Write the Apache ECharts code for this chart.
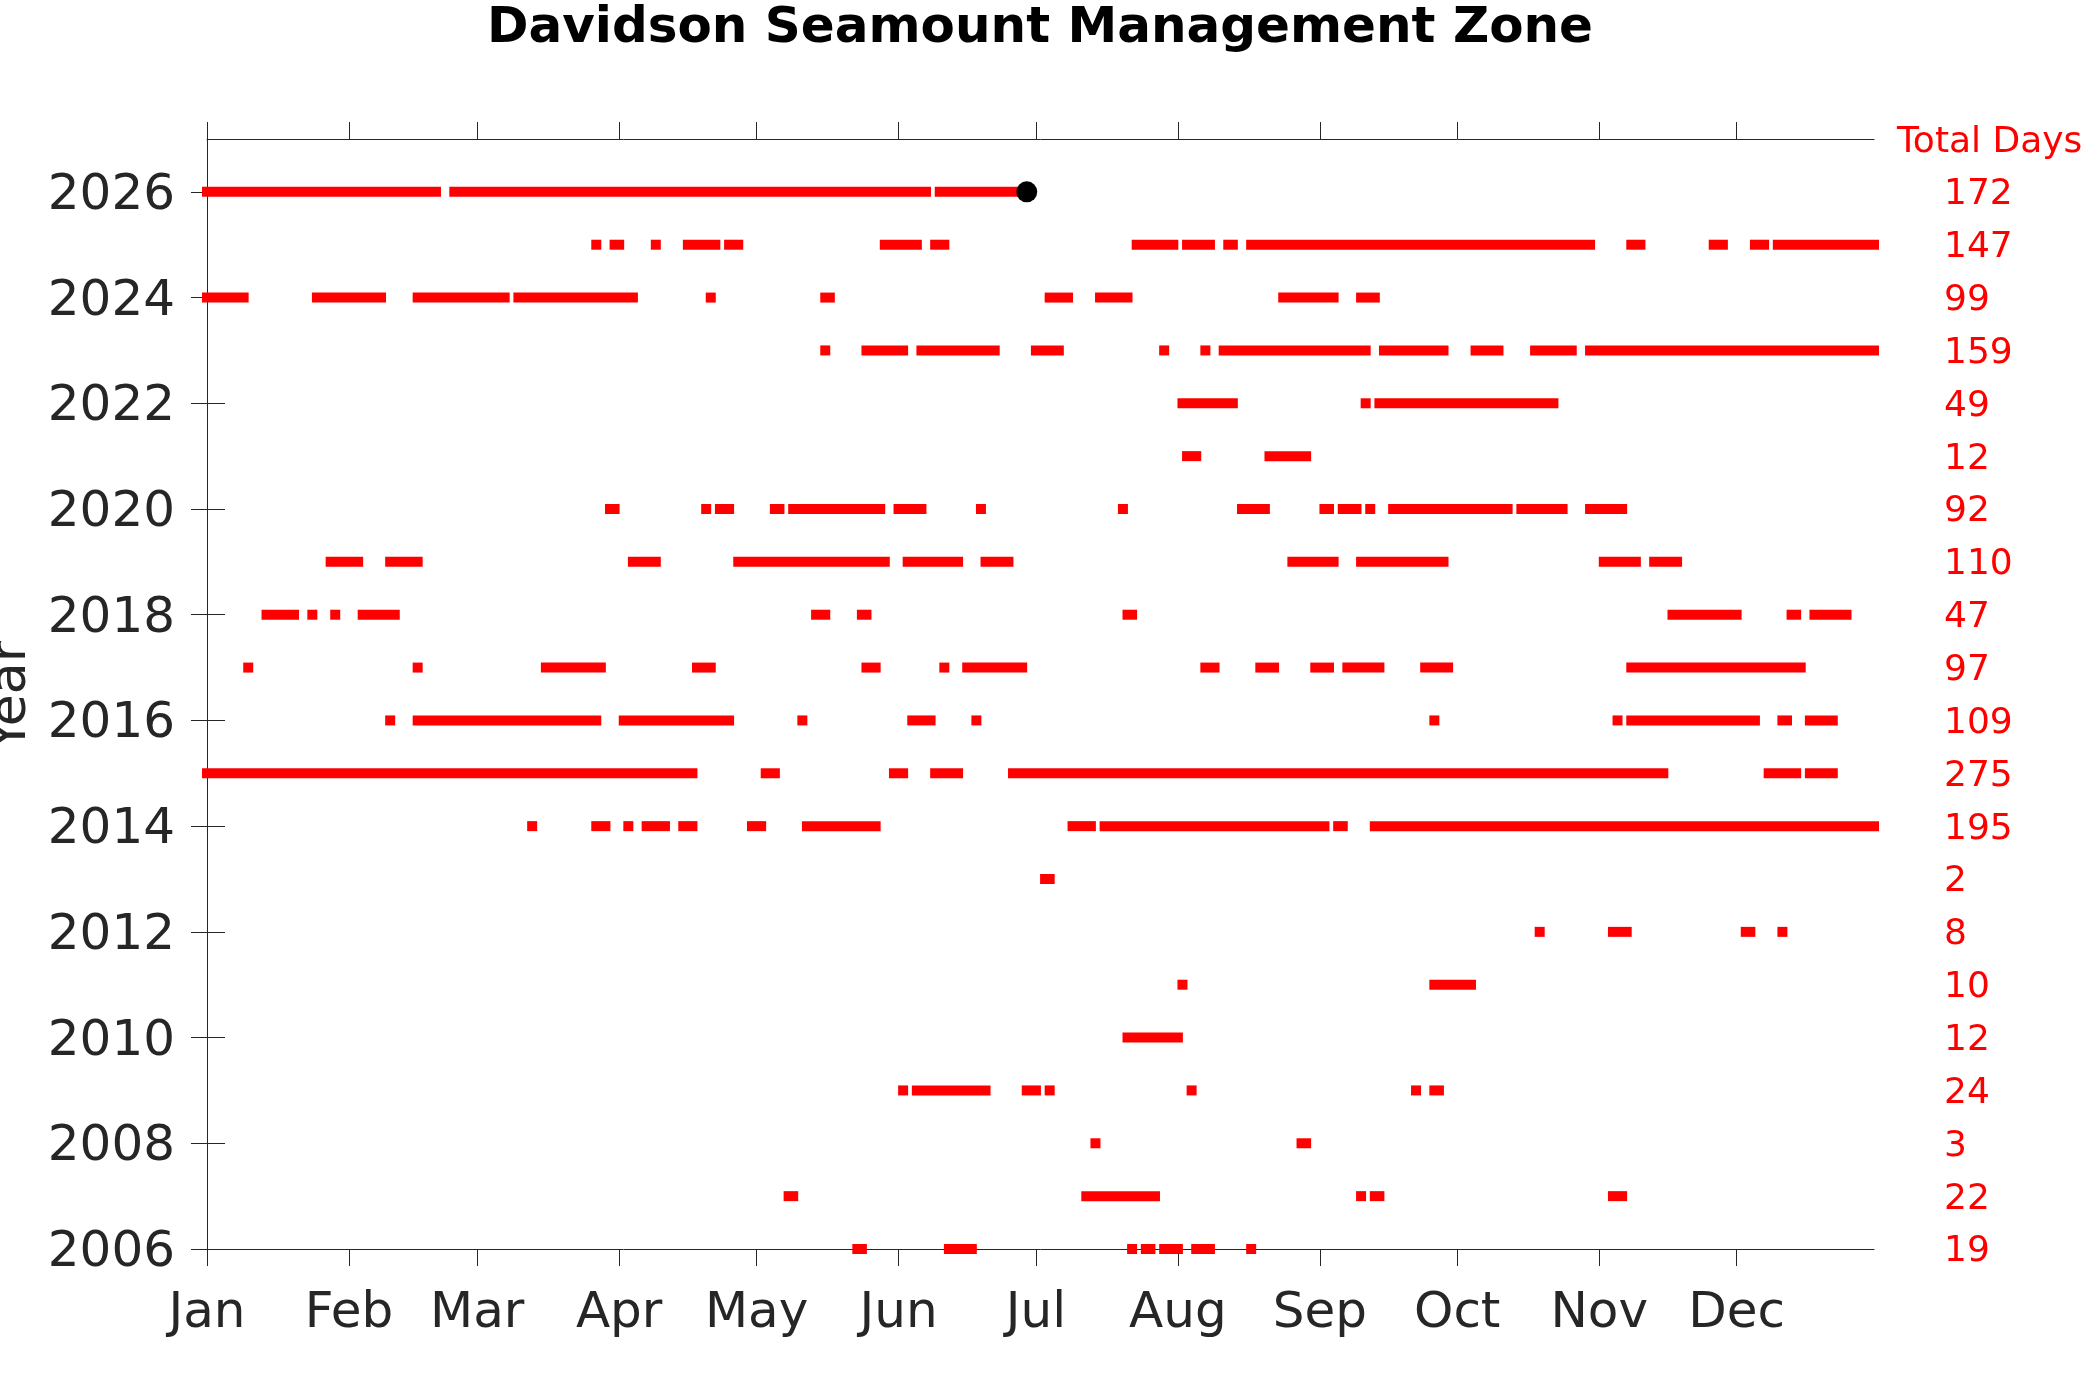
<!DOCTYPE html>
<html>
<head>
<meta charset="utf-8">
<title>Davidson Seamount Management Zone</title>
<script src="https://cdn.jsdelivr.net/npm/echarts@6/dist/echarts.min.js"></script>
<style>
html, body { margin: 0; padding: 0; background: #fff; }
#chart { width: 2083px; height: 1389px; }
</style>
</head>
<body>
<div id="chart"></div>
<script>
// month ticks, as day-of-year offsets (axis runs Jan 1 .. Dec 31)
var monthNames = ['Jan', 'Feb', 'Mar', 'Apr', 'May', 'Jun', 'Jul', 'Aug', 'Sep', 'Oct', 'Nov', 'Dec'];
var monthStarts = [0, 31, 59, 90, 120, 151, 181, 212, 243, 273, 304, 334];

var years = [2006, 2007, 2008, 2009, 2010, 2011, 2012, 2013, 2014, 2015, 2016,
	2017, 2018, 2019, 2020, 2021, 2022, 2023, 2024, 2025, 2026];
var evenYears = [2006, 2008, 2010, 2012, 2014, 2016, 2018, 2020, 2022, 2024, 2026];
var totalDays = [19, 22, 3, 24, 12, 10, 8, 2, 195, 275, 109, 97, 47, 110, 92, 12, 49, 159, 99, 147, 172];

// [first day, last day] of each presence period, per year
var seg2006 = [[142, 143], [162, 167], [202, 202], [205, 206], [209, 212], [216, 219], [228, 228]];
var seg2007 = [[127, 128], [192, 207], [252, 252], [255, 256], [307, 309]];
var seg2008 = [[194, 194], [239, 240]];
var seg2009 = [[152, 152], [155, 170], [179, 181], [184, 184], [215, 215], [264, 264], [268, 269]];
var seg2010 = [[201, 212]];
var seg2011 = [[213, 213], [268, 276]];
var seg2012 = [[291, 291], [307, 310], [336, 337], [344, 344]];
var seg2013 = [[183, 184]];
var seg2014 = [[71, 71], [85, 87], [92, 92], [96, 100], [104, 106], [119, 121], [131, 146],
	[189, 193], [196, 244], [247, 248], [255, 364]];
var seg2015 = [[0, 106], [122, 124], [150, 152], [159, 164], [176, 318], [341, 347], [350, 355]];
var seg2016 = [[40, 40], [46, 85], [91, 114], [130, 130], [154, 158], [168, 168], [268, 268],
	[308, 308], [311, 338], [344, 345], [350, 355]];
var seg2017 = [[9, 9], [46, 46], [74, 86], [107, 110], [144, 146], [161, 161], [166, 178],
	[218, 220], [230, 233], [242, 245], [249, 256], [266, 271], [311, 348]];
var seg2018 = [[13, 19], [23, 23], [28, 28], [34, 41], [133, 135], [143, 144], [201, 202],
	[320, 334], [346, 347], [351, 358]];
var seg2019 = [[27, 33], [40, 46], [93, 98], [116, 148], [153, 164], [170, 175], [237, 246],
	[252, 270], [305, 312], [316, 321]];
var seg2020 = [[88, 89], [109, 109], [112, 114], [124, 125], [128, 147], [151, 156], [169, 169],
	[200, 200], [226, 231], [244, 245], [248, 251], [254, 254], [259, 284], [287, 296], [302, 309]];
var seg2021 = [[214, 216], [232, 240]];
var seg2022 = [[213, 224], [253, 253], [256, 294]];
var seg2023 = [[135, 135], [144, 152], [156, 172], [181, 186], [209, 209], [218, 218], [222, 253],
	[257, 270], [277, 282], [290, 298], [302, 364]];
var seg2024 = [[0, 8], [24, 38], [46, 65], [68, 93], [110, 110], [135, 136], [184, 188],
	[195, 201], [235, 246], [252, 255]];
var seg2025 = [[85, 85], [89, 90], [98, 98], [105, 111], [114, 116], [148, 155], [159, 161],
	[203, 211], [214, 219], [223, 224], [228, 302], [311, 313], [329, 331], [338, 340], [343, 364]];
var seg2026 = [[0, 50], [54, 157], [160, 176]];

var yearSegments = [seg2006, seg2007, seg2008, seg2009, seg2010, seg2011, seg2012, seg2013,
	seg2014, seg2015, seg2016, seg2017, seg2018, seg2019, seg2020, seg2021, seg2022, seg2023,
	seg2024, seg2025, seg2026];

// latest position
var lastFix = [179, 2026];

var axisColor = '#262626';
var barHeight = 10;

var segData = [];
yearSegments.forEach(function(list, i) {
	list.forEach(function(s) {
		segData.push([s[0], s[1], years[i]]);
	});
});

function renderSegment(params, api) {
	var p0 = api.coord([api.value(0), api.value(2)]);
	var p1 = api.coord([api.value(1), api.value(2)]);
	var half = barHeight / 2;
	return {
		type: 'rect',
		shape: { x: p0[0] - half, y: p0[1] - half, width: p1[0] - p0[0] + barHeight, height: barHeight },
		style: { fill: '#ff0000' }
	};
}

var myChart = echarts.init(document.getElementById('chart'));
var option = {
	animation: false,
	backgroundColor: '#ffffff',
	textStyle: { fontFamily: 'DejaVu Sans' },
	grid: { left: 207, right: 209, top: 139, bottom: 140 },
	graphic: [{
		type: 'text', x: 1040, y: 29,
		style: {
			text: 'Davidson Seamount Management Zone', font: 'bold 50px "DejaVu Sans"', fill: '#000',
			align: 'center', verticalAlign: 'middle', textAlign: 'center', textVerticalAlign: 'middle'
		}
	}, {
		type: 'text', x: 11, y: 696, rotation: Math.PI / 2,
		style: {
			text: 'Year', font: '52px "DejaVu Sans"', fill: axisColor,
			align: 'center', verticalAlign: 'middle', textAlign: 'center', textVerticalAlign: 'middle'
		}
	}, {
		type: 'text', x: 1897, y: 143,
		style: {
			text: 'Total Days', font: '36px "DejaVu Sans"', fill: '#ff0000',
			align: 'left', verticalAlign: 'middle', textAlign: 'left', textVerticalAlign: 'middle'
		}
	}],
	xAxis: [{
		type: 'value', min: 0, max: 364, position: 'bottom',
		axisLine: { show: true, lineStyle: { color: axisColor, width: 1 } },
		axisTick: { show: true, length: 17, customValues: monthStarts, lineStyle: { color: axisColor } },
		axisLabel: {
			customValues: monthStarts, fontSize: 50, color: axisColor, margin: 40,
			formatter: function(v) { return monthNames[monthStarts.indexOf(v)]; }
		},
		splitLine: { show: false }
	}, {
		type: 'value', min: 0, max: 364, position: 'top',
		axisLine: { show: true, lineStyle: { color: axisColor, width: 1 } },
		axisTick: { show: true, length: 17, customValues: monthStarts, lineStyle: { color: axisColor } },
		axisLabel: { show: false },
		splitLine: { show: false }
	}],
	yAxis: [{
		type: 'value', min: 2006, max: 2027, position: 'left',
		axisLine: { show: true, lineStyle: { color: axisColor, width: 1 } },
		axisTick: { show: true, length: 16, customValues: evenYears, lineStyle: { color: axisColor } },
		axisLabel: {
			customValues: evenYears, margin: 32,
			formatter: function(v) { return '{y|' + v + '}'; },
			rich: { y: { fontSize: 50, color: axisColor, padding: [8, 0, 0, 0] } }
		},
		splitLine: { show: false }
	}, {
		type: 'value', min: 2006, max: 2027, position: 'right',
		axisLine: { show: true, lineStyle: { color: axisColor, width: 1 } },
		axisTick: { show: true, length: 18, customValues: evenYears, lineStyle: { color: axisColor } },
		axisLabel: {
			customValues: years, margin: 70, align: 'left',
			formatter: function(v) { return '{t|' + totalDays[years.indexOf(v)] + '}'; },
			rich: { t: { fontSize: 36, color: '#ff0000', padding: [6, 0, 0, 0] } }
		},
		splitLine: { show: false }
	}],
	series: [{
		type: 'custom',
		xAxisIndex: 0,
		yAxisIndex: 0,
		renderItem: renderSegment,
		encode: { x: [0, 1], y: 2 },
		data: segData,
		z: 2
	}, {
		type: 'scatter',
		xAxisIndex: 0,
		yAxisIndex: 0,
		symbol: 'circle',
		symbolSize: 21,
		itemStyle: { color: '#000000', opacity: 1 },
		data: [lastFix],
		z: 3
	}]
};
myChart.setOption(option);
</script>
</body>
</html>
